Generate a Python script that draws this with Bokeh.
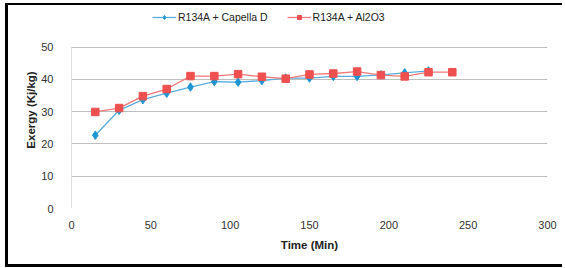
from bokeh.plotting import figure
from bokeh.models import Legend, LegendItem, Range1d, FixedTicker
from bokeh.embed import file_html
from bokeh.resources import INLINE

time_blue = [15, 30, 45, 60, 75, 90, 105, 120, 135, 150, 165, 180, 195, 210, 225]
exergy_capella = [22.7, 30.4, 33.7, 35.7, 37.6, 39.3, 39.1, 39.6, 40.4, 40.4, 40.9, 40.9, 41.4, 42.0, 42.6]
time_red = [15, 30, 45, 60, 75, 90, 105, 120, 135, 150, 165, 180, 195, 210, 225, 240]
exergy_al2o3 = [29.9, 31.1, 34.8, 37.0, 41.0, 41.0, 41.6, 40.8, 40.2, 41.5, 41.8, 42.4, 41.3, 40.9, 42.2, 42.2]
x_ticks = [0, 50, 100, 150, 200, 250, 300]
y_ticks = [0, 10, 20, 30, 40, 50]
y_axis_span = [0, 50]

FONT = "Liberation Sans"
BLUE = "#1E96D2"
BLUE_L = "#5AAEDE"
RED = "#EE5050"
RED_L = "#F07A7A"
GRID = "#BEBEBE"

# frame extends above the 50 gridline to host the legend
p = figure(width=557, height=264, output_backend="svg", toolbar_location=None,
           x_range=Range1d(0, 300), y_range=Range1d(0, 61.0),
           min_border_left=63, min_border_right=18, min_border_top=6, min_border_bottom=61)
p.outline_line_color = None
p.background_fill_color = "white"
p.border_fill_color = "white"
p.styles = {"border-left": "3px solid black", "border-top": "2px solid black",
            "border-bottom": "3px solid black", "margin-left": "5px", "margin-top": "3px"}

p.xaxis.ticker = FixedTicker(ticks=x_ticks)
p.yaxis.ticker = FixedTicker(ticks=y_ticks)
p.xgrid.grid_line_color = None
p.ygrid.grid_line_color = GRID
p.ygrid.grid_line_width = 1

for ax in (p.xaxis[0], p.yaxis[0]):
    ax.major_tick_line_color = None
    ax.minor_tick_line_color = None
    ax.axis_line_color = None
    ax.major_label_text_font = FONT
    ax.major_label_text_font_size = "11px"
    ax.major_label_text_color = "#333333"
    ax.axis_label_text_font = FONT
    ax.axis_label_text_font_size = "11.5px"
    ax.axis_label_text_font_style = "bold"
    ax.axis_label_text_color = "#222222"
p.xaxis.major_label_standoff = 6
p.yaxis.major_label_standoff = 12
p.xaxis.axis_label = "Time (Min)"
p.yaxis.axis_label = "Exergy (Kj/kg)"
p.xaxis.axis_label_standoff = 7
p.yaxis.axis_label_standoff = 1

# left axis line from 0 to 50 only
p.line([0, 0], y_axis_span, line_color=GRID, line_width=1)

bl = p.line(time_blue, exergy_capella, line_color=BLUE_L, line_width=1.3)
bm = p.scatter(time_blue, exergy_capella, marker="diamond", size=8.5, fill_color=BLUE, line_color=BLUE)
rl = p.line(time_red, exergy_al2o3, line_color=RED_L, line_width=1.3)
rm = p.scatter(time_red, exergy_al2o3, marker="square", size=7.5, fill_color=RED, line_color=RED)

legend = Legend(items=[LegendItem(label="R134A + Capella D", renderers=[bl, bm]),
                       LegendItem(label="R134A + Al2O3", renderers=[rl, rm])],
                orientation="horizontal", location=(81, 185),
                label_text_font=FONT, label_text_font_size="10.5px", label_text_color="#222222",
                glyph_width=24, glyph_height=10, spacing=19, padding=0, margin=0,
                label_standoff=2, border_line_color=None, background_fill_alpha=0)
p.add_layout(legend, "center")

open("out.html", "w").write(file_html(p, INLINE))
